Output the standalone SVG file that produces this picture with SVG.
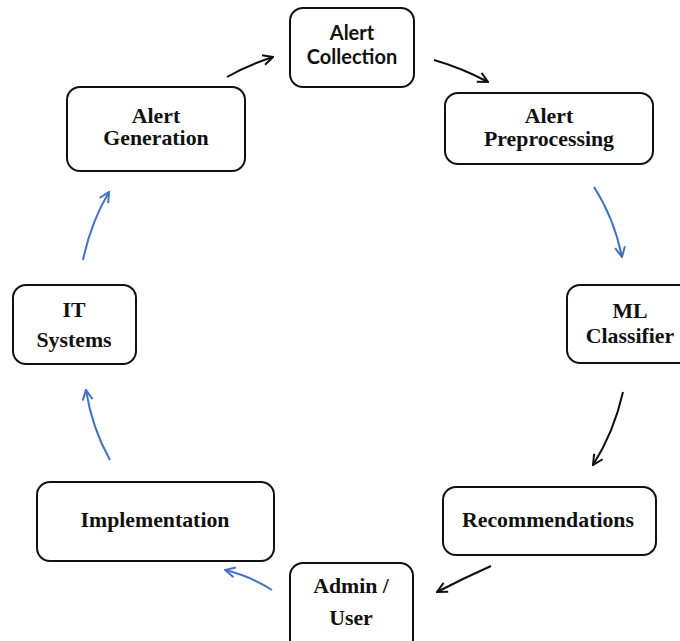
<svg xmlns="http://www.w3.org/2000/svg" width="680" height="641" viewBox="0 0 680 641">
<style>
.box{fill:#fff;stroke:#111;stroke-width:2}
.t{font-family:"Liberation Serif","Times New Roman",serif;font-weight:bold;font-size:21.8px;fill:#111;text-anchor:middle}
.s{font-family:Lato,"Liberation Sans",sans-serif;font-weight:bold;font-size:20px;fill:#111;text-anchor:middle}
.ck{fill:none;stroke:#111;stroke-width:2}
.cb{fill:none;stroke:#4472C4;stroke-width:2}
</style>
<defs>
<marker id="ak" viewBox="0 0 12 12" refX="11" refY="6" markerWidth="12" markerHeight="12" markerUnits="userSpaceOnUse" orient="auto">
<path d="M1,1 L11,6 L1,11" fill="none" stroke="#111" stroke-width="2"/>
</marker>
<marker id="ab" viewBox="0 0 12 12" refX="11" refY="6" markerWidth="12" markerHeight="12" markerUnits="userSpaceOnUse" orient="auto">
<path d="M1,1 L11,6 L1,11" fill="none" stroke="#4472C4" stroke-width="2"/>
</marker>
</defs>
<g id="connectors">
<path class="ck" d="M227,77 Q248,65 273,57" marker-end="url(#ak)"/>
<path class="ck" d="M434,60 Q462,68 488,82" marker-end="url(#ak)"/>
<path class="cb" d="M594,187 Q614,218 622,257" marker-end="url(#ab)"/>
<path class="ck" d="M623,392 Q614,432 593,465" marker-end="url(#ak)"/>
<path class="ck" d="M491,566 Q464,578 437,592" marker-end="url(#ak)"/>
<path class="cb" d="M272,590 Q250,576 225,570" marker-end="url(#ab)"/>
<path class="cb" d="M110,460 Q92,428 86,390" marker-end="url(#ab)"/>
<path class="cb" d="M83,260 Q91,222 109,192" marker-end="url(#ab)"/>
</g>
<g id="alert-collection">
<rect class="box" x="290" y="8" width="124" height="79" rx="13"/>
<text class="s" x="352" y="40">Alert</text>
<text class="s" x="352" y="64">Collection</text>
</g>
<g id="alert-generation">
<rect class="box" x="67" y="87" width="178" height="84" rx="13"/>
<text class="t" x="156" y="123">Alert</text>
<text class="t" x="156" y="145">Generation</text>
</g>
<g id="alert-preprocessing">
<rect class="box" x="445" y="93" width="208" height="71" rx="13"/>
<text class="t" x="549" y="123">Alert</text>
<text class="t" x="549" y="146">Preprocessing</text>
</g>
<g id="ml-classifier">
<rect class="box" x="567" y="285" width="130" height="78" rx="13"/>
<text class="t" x="630" y="318">ML</text>
<text class="t" x="630" y="343">Classifier</text>
</g>
<g id="it-systems">
<rect class="box" x="13" y="285" width="123" height="79" rx="13"/>
<text class="t" x="74" y="317">IT</text>
<text class="t" x="74" y="347">Systems</text>
</g>
<g id="recommendations">
<rect class="box" x="443" y="487" width="213" height="68" rx="13"/>
<text class="t" x="548" y="527">Recommendations</text>
</g>
<g id="admin-user">
<rect class="box" x="290" y="563" width="123" height="90" rx="13"/>
<text class="t" x="351" y="593">Admin /</text>
<text class="t" x="351" y="625">User</text>
</g>
<g id="implementation">
<rect class="box" x="37" y="482" width="237" height="79" rx="13"/>
<text class="t" x="155" y="527">Implementation</text>
</g>
</svg>
